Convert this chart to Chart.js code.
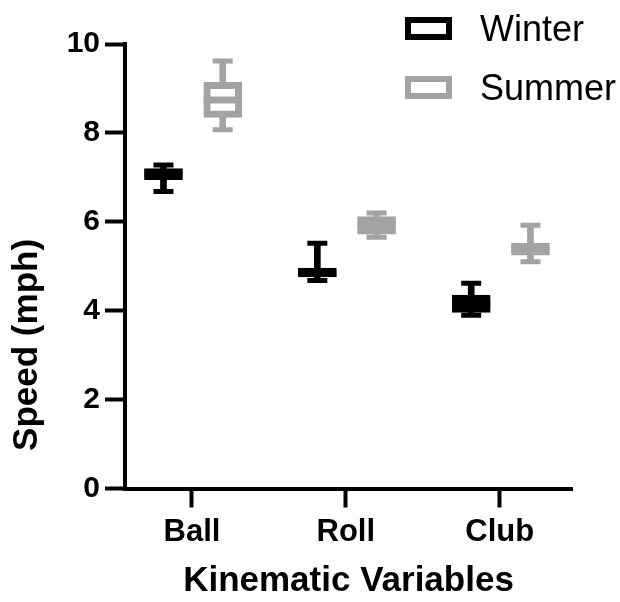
<!DOCTYPE html>
<html>
<head>
<meta charset="utf-8">
<script src="https://cdn.jsdelivr.net/npm/chart.js@4"></script>
<style>
    html, body { margin: 0; padding: 0; background: #fff; }
    .wrap { position: relative; width: 620px; height: 602px; }
    .legend { position: absolute; left: 405px; top: 0; font-family: 'Liberation Sans', Arial, sans-serif; font-size: 36px; color: #000; }
    .legend .item { position: absolute; left: 0; height: 40px; width: 215px; white-space: nowrap; }
    .legend .swatch { position: absolute; left: 0; top: 8px; width: 47px; height: 23px; box-sizing: border-box; border: 6px solid #000; }
    .legend .label { position: absolute; left: 75px; top: 0; line-height: 40px; }
</style>
</head>
<body>
<div class="wrap">
    <canvas id="chart" width="620" height="602"></canvas>
    <div class="legend"></div>
</div>
<script>
const categories = ['Ball', 'Roll', 'Club']
const seriesNames = ['Winter', 'Summer']
const seriesColors = ['#000000', '#a3a3a3']

// five number summaries
const winterMin = [6.68, 4.68, 3.90]
const winterQ1 = [6.95, 4.76, 3.96]
const winterMedian = [7.08, 4.85, 4.15]
const winterQ3 = [7.20, 4.96, 4.35]
const winterMax = [7.28, 5.52, 4.62]

const summerMin = [8.07, 5.65, 5.10]
const summerQ1 = [8.35, 5.72, 5.25]
const summerMedian = [8.74, 5.92, 5.38]
const summerQ3 = [9.14, 6.12, 5.52]
const summerMax = [9.62, 6.20, 5.92]

const yTicks = [0, 2, 4, 6, 8, 10]

const series = [
    { min: winterMin, q1: winterQ1, median: winterMedian, q3: winterQ3, max: winterMax, shift: -0.185 },
    { min: summerMin, q1: summerQ1, median: summerMedian, q3: summerQ3, max: summerMax, shift: 0.2 }
]

const datasets = []

series.forEach((s, k) => {
    const color = seriesColors[k]
    const xs = categories.map((c, i) => i + 1 + s.shift)

    datasets.push({
        type: 'bar',
        label: seriesNames[k] + ' whisker',
        data: xs.map((x, i) => ({ x, y: [s.min[i], s.max[i]] })),
        backgroundColor: color,
        barThickness: 6,
        grouped: false,
        order: 3
    })

    datasets.push({
        type: 'bar',
        label: seriesNames[k],
        data: xs.map((x, i) => ({ x, y: [s.q1[i], s.q3[i]] })),
        backgroundColor: '#ffffff',
        borderColor: color,
        borderWidth: 7,
        borderSkipped: false,
        barThickness: 38,
        grouped: false,
        order: 2
    })

    datasets.push({
        type: 'scatter',
        label: seriesNames[k] + ' median',
        data: xs.map((x, i) => ({ x, y: s.median[i] })),
        pointStyle: 'line',
        pointRadius: 19,
        borderColor: color,
        borderWidth: 7,
        order: 1
    })

    datasets.push({
        type: 'scatter',
        label: seriesNames[k] + ' caps',
        data: xs.flatMap((x, i) => [{ x, y: s.min[i] }, { x, y: s.max[i] }]),
        pointStyle: 'line',
        pointRadius: 10,
        borderColor: color,
        borderWidth: 5,
        order: 1
    })
})

const yTitlePlugin = {
    id: 'yTitle',
    afterDraw(chart) {
        const ctx = chart.ctx
        const y = chart.scales.y

        ctx.save()
        ctx.translate(27, y.getPixelForValue(3.5) + 12)
        ctx.rotate(-Math.PI / 2)
        ctx.font = 'bold 35px "Liberation Sans", Arial, sans-serif'
        ctx.fillStyle = '#000'
        ctx.textAlign = 'center'
        ctx.textBaseline = 'middle'
        ctx.fillText('Speed (mph)', 0, 0)
        ctx.restore()
    }
}

const legendElement = document.querySelector('.legend')

seriesNames.forEach((name, k) => {
    const item = document.createElement('div')
    item.className = 'item'
    item.style.top = (9 + k * 59) + 'px'

    const swatch = document.createElement('div')
    swatch.className = 'swatch'
    swatch.style.borderColor = seriesColors[k]

    const label = document.createElement('div')
    label.className = 'label'
    label.textContent = name

    item.appendChild(swatch)
    item.appendChild(label)
    legendElement.appendChild(item)
})

const font = 'Liberation Sans, Arial, sans-serif'

new Chart(document.querySelector('#chart'), {
    type: 'bar',
    data: { datasets },
    options: {
        responsive: false,
        animation: false,
        layout: { padding: { left: 0, right: 48, top: 44, bottom: 0 } },
        plugins: {
            legend: { display: false },
            tooltip: { enabled: false }
        },
        scales: {
            x: {
                type: 'linear',
                min: 0.565,
                max: 3.47,
                offset: false,
                afterBuildTicks: scale => {
                    scale.ticks = categories.map((c, i) => ({ value: i + 1 }))
                },
                afterFit: scale => { scale.height = 113.5 },
                ticks: {
                    callback: value => categories[value - 1],
                    color: '#000',
                    padding: 6,
                    maxRotation: 0,
                    autoSkip: false,
                    font: { family: font, size: 31, weight: 'bold' }
                },
                grid: { display: true, offset: false, drawOnChartArea: false, tickLength: 19, tickWidth: 4, tickColor: '#000' },
                border: { display: true, width: 4, color: '#000' },
                title: {
                    display: true,
                    text: 'Kinematic Variables',
                    color: '#000',
                    padding: { top: 0, bottom: 0 },
                    font: { family: font, size: 35, weight: 'bold' }
                }
            },
            y: {
                min: 0,
                max: 10,
                afterBuildTicks: scale => {
                    scale.ticks = yTicks.map(v => ({ value: v }))
                },
                afterFit: scale => { scale.width = 125 },
                ticks: {
                    color: '#000',
                    padding: 5,
                    font: { family: font, size: 30, weight: 'bold' }
                },
                grid: { display: true, drawOnChartArea: false, tickLength: 20, tickWidth: 4, tickColor: '#000' },
                border: { display: true, width: 4, color: '#000' }
            }
        }
    },
    plugins: [yTitlePlugin]
})
</script>
</body>
</html>
